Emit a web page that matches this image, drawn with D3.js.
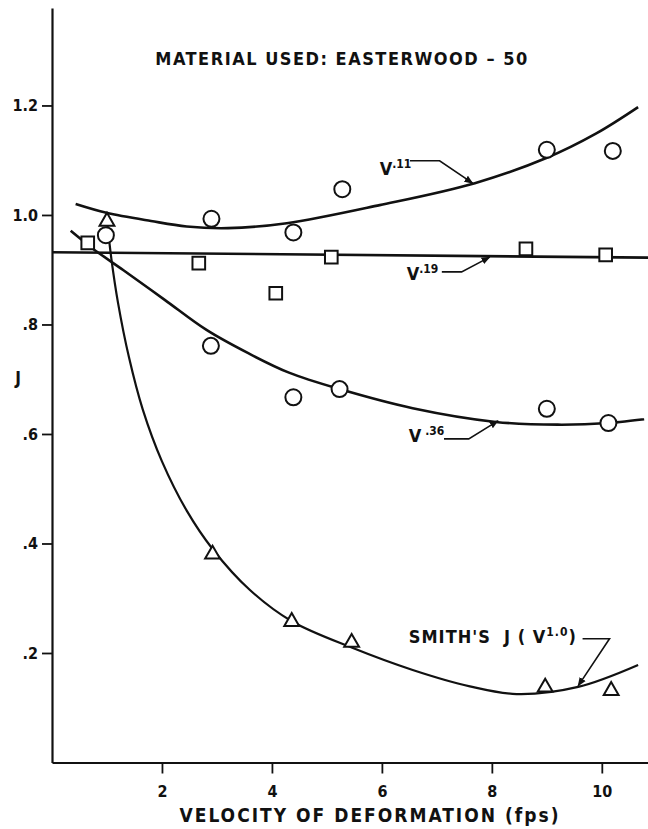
<!DOCTYPE html>
<html>
<head>
<meta charset="utf-8">
<script src="https://cdn.jsdelivr.net/npm/d3@7"></script>
<style>
  body { margin: 0; background: #fff; }
  svg { display: block; background: #fff; }
  text { font-family: "DejaVu Sans Condensed", "DejaVu Sans", sans-serif; font-weight: bold; fill: #111; }
</style>
</head>
<body>
<svg id="chart" width="648" height="829"></svg>
<script>
const xTicks = [2, 4, 6, 8, 10];
const yTicks = [0.2, 0.4, 0.6, 0.8, 1.0, 1.2];
const yTickLabels = [".2", ".4", ".6", ".8", "1.0", "1.2"];

// measured points (velocity fps, J)
const circlesHigh = [[0.98, 0.963], [2.9, 0.993], [4.39, 0.968], [5.28, 1.047], [9.0, 1.119], [10.2, 1.117]];
const circlesLow = [[2.89, 0.761], [4.39, 0.667], [5.23, 0.682], [9.0, 0.646], [10.12, 0.620]];
const squares = [[0.65, 0.949], [2.67, 0.912], [4.07, 0.857], [5.08, 0.923], [8.62, 0.938], [10.07, 0.927]];
const triangles = [[1.0, 0.991], [2.92, 0.383], [4.36, 0.260], [5.45, 0.222], [8.97, 0.140], [10.17, 0.134]];

// fitted curves
const curveV11 = [[0.43, 1.020], [0.99, 1.004], [1.8, 0.989], [2.45, 0.979], [3.2, 0.976], [4.27, 0.985],
  [5.96, 1.018], [7.69, 1.058], [8.99, 1.104], [9.9, 1.149], [10.66, 1.197]];
const curveV19 = [[0, 0.932], [10.84, 0.922]];
const curveV36 = [[0.34, 0.971], [0.75, 0.938], [1.3, 0.899], [2.05, 0.845], [2.81, 0.790], [3.56, 0.748],
  [4.31, 0.712], [5.23, 0.682], [6.56, 0.647], [8.07, 0.622], [9.2, 0.617], [10.12, 0.620], [10.77, 0.627]];
const curveSmith = [[1.0, 0.990], [1.08, 0.920], [1.2, 0.840], [1.4, 0.740], [1.65, 0.645], [2.0, 0.550],
  [2.45, 0.460], [2.92, 0.390], [3.6, 0.315], [4.36, 0.258], [5.45, 0.210], [6.56, 0.169], [7.6, 0.139],
  [8.45, 0.125], [9.57, 0.138], [10.66, 0.178]];

const notes = [
  { base: "V", sup: ".11", tail: "", at: [5.96, 1.073], leader: [[6.51, 1.099], [7.05, 1.099], [7.65, 1.058]] },
  { base: "V", sup: ".19", tail: "", at: [6.45, 0.881], leader: [[7.09, 0.896], [7.45, 0.896], [7.96, 0.923]] },
  { base: "V", sup: " .36", tail: "", at: [6.49, 0.585], leader: [[7.13, 0.591], [7.58, 0.591], [8.11, 0.624]] },
  { base: "SMITH'S  J ( V", sup: "1.0", tail: ")", at: [6.49, 0.218], leader: [[9.65, 0.226], [10.14, 0.226], [9.57, 0.14]] }
];

const svg = d3.select("#chart");

const x = d3.scaleLinear().domain([0, 10.84]).range([52, 648]);
const y = d3.scaleLinear().domain([0, 1.378]).range([762.5, 8]);

svg.append("defs").append("marker")
  .attr("id", "arrow")
  .attr("viewBox", "0 0 10 10")
  .attr("refX", 9)
  .attr("refY", 5)
  .attr("markerWidth", 9)
  .attr("markerHeight", 9)
  .attr("markerUnits", "userSpaceOnUse")
  .attr("orient", "auto")
  .append("path")
  .attr("d", "M0,1 L10,5 L0,9 Z")
  .attr("fill", "#111");

// axes
const xAxis = svg.append("g")
  .attr("transform", `translate(0,${y(0)})`)
  .call(d3.axisBottom(x).tickValues(xTicks).tickSize(11).tickSizeOuter(0).tickPadding(12));

const yAxis = svg.append("g")
  .attr("transform", `translate(${x(0)},0)`)
  .call(d3.axisLeft(y).tickValues(yTicks).tickSize(10).tickSizeOuter(0).tickPadding(4)
    .tickFormat((d, i) => yTickLabels[i]));

[xAxis, yAxis].forEach(g => {
  g.select(".domain").attr("stroke", "#111").attr("stroke-width", 2.2);
  g.selectAll(".tick line").attr("stroke", "#111").attr("stroke-width", 1.8);
  g.selectAll(".tick text")
    .style("font-family", "'DejaVu Sans Condensed', 'DejaVu Sans', sans-serif")
    .style("font-weight", "bold")
    .style("font-size", "16px")
    .attr("fill", "#111");
});

// curves
const smooth = d3.line()
  .x(d => x(d[0]))
  .y(d => y(d[1]))
  .curve(d3.curveCatmullRom.alpha(0.5));

[curveV11, curveV19, curveV36].forEach(c => {
  svg.append("path")
    .attr("d", smooth(c))
    .attr("fill", "none")
    .attr("stroke", "#111")
    .attr("stroke-width", 2.6);
});

svg.append("path")
  .attr("d", smooth(curveSmith))
  .attr("fill", "none")
  .attr("stroke", "#111")
  .attr("stroke-width", 2.2);

// markers
const markerStyle = sel => sel
  .attr("fill", "#fff")
  .attr("stroke", "#111")
  .attr("stroke-width", 2);

svg.append("g").selectAll("circle")
  .data(circlesHigh.concat(circlesLow))
  .enter().append("circle")
  .attr("cx", d => x(d[0]))
  .attr("cy", d => y(d[1]))
  .attr("r", 8)
  .call(markerStyle);

svg.append("g").selectAll("path")
  .data(squares)
  .enter().append("path")
  .attr("transform", d => `translate(${x(d[0])},${y(d[1])})`)
  .attr("d", d3.symbol().type(d3.symbolSquare).size(160))
  .call(markerStyle);

svg.append("g").selectAll("path")
  .data(triangles)
  .enter().append("path")
  .attr("transform", d => `translate(${x(d[0])},${y(d[1]) + 1.5})`)
  .attr("d", d3.symbol().type(d3.symbolTriangle).size(95))
  .call(markerStyle);

// annotations with leader arrows
const leader = d3.line().x(d => x(d[0])).y(d => y(d[1]));

notes.forEach(n => {
  const t = svg.append("text")
    .attr("x", x(n.at[0]))
    .attr("y", y(n.at[1]))
    .style("font-size", "18px")
    .style("white-space", "pre")
    .style("letter-spacing", n.tail ? "1px" : "0px");
  t.append("tspan").text(n.base);
  t.append("tspan").attr("dy", -7).style("font-size", "12px").text(n.sup);
  if (n.tail) t.append("tspan").attr("dy", 7).text(n.tail);

  svg.append("path")
    .attr("d", leader(n.leader))
    .attr("fill", "none")
    .attr("stroke", "#111")
    .attr("stroke-width", 1.6)
    .attr("marker-end", "url(#arrow)");
});

// titles
svg.append("text")
  .attr("x", 342)
  .attr("y", 65)
  .attr("text-anchor", "middle")
  .style("font-size", "18px")
  .style("letter-spacing", "1.5px")
  .text("MATERIAL USED: EASTERWOOD – 50");

svg.append("text")
  .attr("x", 370)
  .attr("y", 822)
  .attr("text-anchor", "middle")
  .style("font-size", "19px")
  .style("letter-spacing", "2px")
  .text("VELOCITY OF DEFORMATION (fps)");

svg.append("text")
  .attr("x", 18)
  .attr("y", 384)
  .attr("text-anchor", "middle")
  .style("font-size", "17px")
  .text("J");
</script>
</body>
</html>
